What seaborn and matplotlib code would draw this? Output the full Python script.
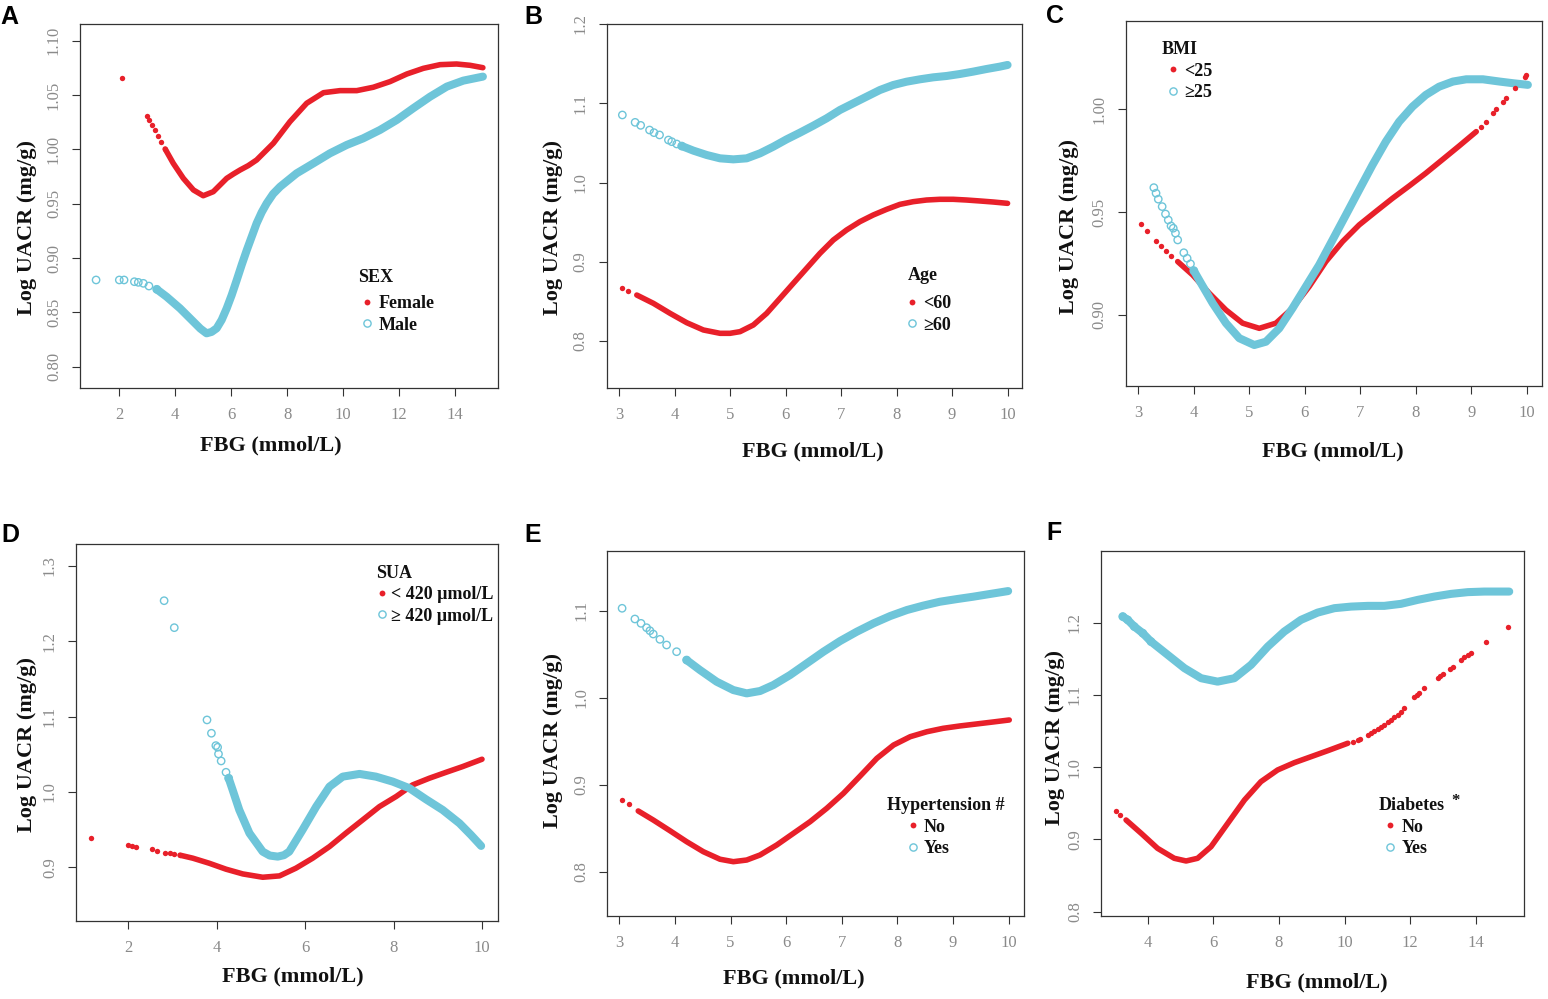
import matplotlib
matplotlib.use("Agg")
import matplotlib.pyplot as plt
import seaborn as sns
from matplotlib.lines import Line2D

# ---------------------------------------------------------------- data
# Panel A (SEX)
A_F_PTS_X = [2.11, 2.98, 3.06, 3.16, 3.28, 3.39, 3.49, 3.64]
A_F_PTS_Y = [1.0654, 1.0307, 1.0270, 1.0224, 1.0178, 1.0123, 1.0070, 1.0003]
A_F_CURVE_X = [3.64, 3.93, 4.29, 4.65, 5.00, 5.36, 5.84, 6.08, 6.32, 6.61, 6.91, 7.51, 8.10,
               8.70, 9.30, 9.89, 10.49, 11.08, 11.68, 12.28, 12.87, 13.47, 14.06, 14.54, 15.00]
A_F_CURVE_Y = [1.0003, 0.9871, 0.9733, 0.9626, 0.9573, 0.9610, 0.9733, 0.9773, 0.9810, 0.9850,
               0.9902, 1.0056, 1.0254, 1.0424, 1.0521, 1.0540, 1.0540, 1.0571, 1.0623, 1.0693,
               1.0745, 1.0779, 1.0785, 1.0773, 1.0751]
A_M_PTS_X = [1.17, 2.00, 2.17, 2.54, 2.68, 2.86, 3.06, 3.34]
A_M_PTS_Y = [0.8798, 0.8798, 0.8798, 0.8782, 0.8776, 0.8767, 0.8742, 0.8712]
A_M_CURVE_X = [3.34, 3.69, 4.17, 4.65, 4.90, 5.12, 5.30, 5.48, 5.66, 5.84, 6.02, 6.20, 6.38,
               6.56, 6.74, 6.91, 7.09, 7.27, 7.50, 7.75, 8.34, 8.94, 9.53, 10.13, 10.72, 11.32,
               11.92, 12.51, 13.11, 13.71, 14.30, 15.00]
A_M_CURVE_Y = [0.8712, 0.8644, 0.8537, 0.8414, 0.8350, 0.8307, 0.8320, 0.8353, 0.8430, 0.8537,
               0.8660, 0.8798, 0.8940, 0.9074, 0.9200, 0.9319, 0.9420, 0.9503, 0.9590, 0.9656,
               0.9779, 0.9871, 0.9963, 1.0040, 1.0101, 1.0178, 1.0270, 1.0378, 1.0484, 1.0577,
               1.0632, 1.0669]

# Panel B (Age)
B_R_PTS_X = [3.06, 3.17]
B_R_PTS_Y = [0.8669, 0.8631]
B_R_CURVE_X = [3.32, 3.62, 3.92, 4.22, 4.52, 4.82, 5.00, 5.18, 5.42, 5.66, 5.90, 6.14, 6.38,
               6.62, 6.86, 7.10, 7.34, 7.58, 7.82, 8.06, 8.30, 8.54, 8.78, 9.02, 9.26, 9.50,
               9.74, 10.00]
B_R_CURVE_Y = [0.8580, 0.8475, 0.8349, 0.8231, 0.8139, 0.8097, 0.8097, 0.8118, 0.8202, 0.8349,
               0.8538, 0.8728, 0.8917, 0.9106, 0.9274, 0.9401, 0.9506, 0.9590, 0.9661, 0.9724,
               0.9758, 0.9779, 0.9788, 0.9788, 0.9779, 0.9767, 0.9754, 0.9737]
B_C_PTS_X = [3.06, 3.29, 3.39, 3.55, 3.63, 3.73, 3.89, 3.95, 4.04, 4.13]
B_C_PTS_Y = [1.0852, 1.0759, 1.0721, 1.0662, 1.0629, 1.0600, 1.0536, 1.0515, 1.0486, 1.0460]
B_C_CURVE_X = [4.13, 4.34, 4.58, 4.82, 5.06, 5.30, 5.54, 5.78, 6.02, 6.26, 6.50, 6.74, 6.98,
               7.22, 7.46, 7.70, 7.94, 8.18, 8.42, 8.66, 8.90, 9.14, 9.38, 9.62, 9.86, 10.00]
B_C_CURVE_Y = [1.0460, 1.0402, 1.0347, 1.0305, 1.0292, 1.0305, 1.0368, 1.0452, 1.0545, 1.0629,
               1.0717, 1.0810, 1.0915, 1.0999, 1.1083, 1.1167, 1.1230, 1.1272, 1.1302, 1.1327,
               1.1344, 1.1369, 1.1399, 1.1432, 1.1462, 1.1483]

# Panel C (BMI)
C_R_PTS_X = [3.05, 3.16, 3.32, 3.41, 3.50, 3.59]
C_R_PTS_Y = [0.9440, 0.9408, 0.9359, 0.9335, 0.9311, 0.9286]
C_R_CURVE_X = [3.71, 3.98, 4.28, 4.58, 4.88, 5.18, 5.48, 5.78, 6.08, 6.38, 6.68, 6.98, 7.28,
               7.58, 7.88, 8.18, 8.49, 8.78, 9.09]
C_R_CURVE_Y = [0.9259, 0.9194, 0.9105, 0.9024, 0.8960, 0.8935, 0.8960, 0.9033, 0.9138, 0.9259,
               0.9356, 0.9437, 0.9502, 0.9566, 0.9626, 0.9688, 0.9756, 0.9820, 0.9890]
C_R_PTS2_X = [9.17, 9.27, 9.39, 9.45, 9.57, 9.63, 9.78, 9.96, 9.99]
C_R_PTS2_Y = [0.9912, 0.9938, 0.9982, 0.9998, 1.0036, 1.0052, 1.0100, 1.0157, 1.0165]
C_C_PTS_X = [3.28, 3.32, 3.36, 3.43, 3.49, 3.54, 3.59, 3.63, 3.67, 3.71, 3.82, 3.88, 3.94, 4.00]
C_C_PTS_Y = [0.9618, 0.9591, 0.9562, 0.9526, 0.9490, 0.9461, 0.9432, 0.9421, 0.9397, 0.9364,
             0.9302, 0.9275, 0.9248, 0.9215]
C_C_CURVE_X = [4.00, 4.13, 4.34, 4.58, 4.82, 5.09, 5.30, 5.54, 5.78, 6.02, 6.26, 6.50, 6.74,
               6.98, 7.22, 7.46, 7.70, 7.94, 8.18, 8.42, 8.67, 8.91, 9.21, 9.51, 9.75, 10.02]
C_C_CURVE_Y = [0.9215, 0.9154, 0.9057, 0.8960, 0.8887, 0.8854, 0.8870, 0.8935, 0.9033, 0.9138,
               0.9243, 0.9364, 0.9485, 0.9607, 0.9728, 0.9841, 0.9938, 1.0011, 1.0068, 1.0108,
               1.0133, 1.0144, 1.0144, 1.0133, 1.0125, 1.0117]

# Panel D (SUA)
D_R_PTS_X = [1.16, 1.99, 2.08, 2.17, 2.54, 2.65, 2.84, 2.94, 3.04, 3.17]
D_R_PTS_Y = [0.9385, 0.9296, 0.9283, 0.9274, 0.9239, 0.9221, 0.9194, 0.9186, 0.9173, 0.9160]
D_R_CURVE_X = [3.17, 3.46, 3.83, 4.21, 4.59, 5.04, 5.42, 5.79, 6.17, 6.55, 6.92, 7.30, 7.68,
               8.06, 8.43, 8.81, 9.19, 9.56, 10.00]
D_R_CURVE_Y = [0.9160, 0.9120, 0.9053, 0.8974, 0.8911, 0.8867, 0.8885, 0.8987, 0.9120, 0.9274,
               0.9452, 0.9628, 0.9805, 0.9940, 1.0093, 1.0182, 1.0261, 1.0336, 1.0434]
D_C_PTS_X = [2.81, 3.04, 3.78, 3.88, 3.98, 4.02, 4.04, 4.10, 4.21, 4.27]
D_C_PTS_Y = [1.2539, 1.2181, 1.0956, 1.0779, 1.0615, 1.0593, 1.0504, 1.0411, 1.0261, 1.0182]
D_C_CURVE_X = [4.27, 4.36, 4.51, 4.74, 5.04, 5.20, 5.38, 5.52, 5.64, 5.94, 6.25, 6.55, 6.85,
               7.23, 7.60, 7.98, 8.36, 8.73, 9.11, 9.49, 9.75, 9.98]
D_C_CURVE_Y = [1.0182, 1.0026, 0.9761, 0.9452, 0.9207, 0.9155, 0.9141, 0.9160, 0.9207, 0.9495,
               0.9805, 1.0070, 1.0203, 1.0239, 1.0203, 1.0137, 1.0049, 0.9903, 0.9761, 0.9584,
               0.9429, 0.9283]

# Panel E (Hypertension)
E_R_PTS_X = [3.05, 3.17]
E_R_PTS_Y = [0.8824, 0.8775]
E_R_CURVE_X = [3.34, 3.61, 3.91, 4.21, 4.51, 4.81, 5.05, 5.29, 5.53, 5.83, 6.13, 6.43, 6.73,
               7.03, 7.33, 7.63, 7.93, 8.23, 8.53, 8.82, 9.12, 9.42, 9.72, 10.01]
E_R_CURVE_Y = [0.8698, 0.8594, 0.8471, 0.8345, 0.8230, 0.8143, 0.8115, 0.8134, 0.8192, 0.8307,
               0.8441, 0.8575, 0.8729, 0.8901, 0.9100, 0.9303, 0.9456, 0.9552, 0.9609, 0.9648,
               0.9675, 0.9698, 0.9721, 0.9744]
E_C_PTS_X = [3.05, 3.28, 3.39, 3.49, 3.55, 3.61, 3.73, 3.85, 4.03, 4.21]
E_C_PTS_Y = [1.1028, 1.0905, 1.0855, 1.0805, 1.0770, 1.0732, 1.0671, 1.0606, 1.0529, 1.0433]
E_C_CURVE_X = [4.21, 4.45, 4.75, 5.05, 5.29, 5.53, 5.77, 6.07, 6.37, 6.67, 6.97, 7.27, 7.57,
               7.87, 8.17, 8.46, 8.76, 9.07, 9.36, 9.66, 9.99]
E_C_CURVE_Y = [1.0433, 1.0318, 1.0184, 1.0088, 1.0050, 1.0077, 1.0146, 1.0261, 1.0395, 1.0529,
               1.0652, 1.0759, 1.0855, 1.0939, 1.1008, 1.1058, 1.1103, 1.1134, 1.1161, 1.1192,
               1.1226]

# Panel F (Diabetes)
F_R_PTS_X = [3.03, 3.16]
F_R_PTS_Y = [0.9398, 0.9338]
F_R_CURVE_X = [3.34, 3.80, 4.30, 4.81, 5.17, 5.52, 5.93, 6.44, 6.95, 7.45, 7.96, 8.47, 8.98,
               9.49, 10.10]
F_R_CURVE_Y = [0.9269, 0.9085, 0.8877, 0.8739, 0.8702, 0.8739, 0.8900, 0.9223, 0.9546, 0.9799,
               0.9961, 1.0062, 1.0145, 1.0228, 1.0331]
F_R_PTS2_X = [10.25, 10.40, 10.47, 10.71, 10.81, 10.91, 11.01, 11.11, 11.21, 11.32, 11.42,
              11.52, 11.62, 11.72, 11.82, 12.13, 12.20, 12.28, 12.43, 12.84, 12.92, 12.99,
              13.20, 13.30, 13.55, 13.65, 13.76, 13.86, 14.31, 14.98]
F_R_PTS2_Y = [1.0352, 1.0377, 1.0394, 1.0446, 1.0469, 1.0496, 1.0524, 1.0554, 1.0584, 1.0618,
              1.0653, 1.0688, 1.0722, 1.0768, 1.0815, 1.0976, 1.1003, 1.1031, 1.1092, 1.1239,
              1.1265, 1.1290, 1.1355, 1.1383, 1.1484, 1.1518, 1.1553, 1.1585, 1.1729, 1.1945]
F_C_PTS_X = [3.24, 3.39, 3.59, 3.85, 4.10]
F_C_PTS_Y = [1.2083, 1.2037, 1.1945, 1.1853, 1.1737]
F_C_CURVE_X = [3.24, 3.39, 3.59, 3.85, 4.10, 4.61, 5.12, 5.63, 6.13, 6.64, 7.15, 7.66, 8.16,
               8.67, 9.18, 9.69, 10.20, 10.71, 11.21, 11.72, 12.23, 12.74, 13.25, 13.76, 14.26,
               15.02]
F_C_CURVE_Y = [1.2083, 1.2037, 1.1945, 1.1853, 1.1737, 1.1553, 1.1369, 1.1230, 1.1183, 1.1230,
               1.1415, 1.1668, 1.1875, 1.2037, 1.2138, 1.2199, 1.2221, 1.2231, 1.2231, 1.2259,
               1.2314, 1.2360, 1.2397, 1.2421, 1.2429, 1.2429]

# ticks / labels
A_XTICKS = [2, 4, 6, 8, 10, 12, 14]
A_YTICKS = [0.80, 0.85, 0.90, 0.95, 1.00, 1.05, 1.10]
A_YLABELS = ["0.80", "0.85", "0.90", "0.95", "1.00", "1.05", "1.10"]
B_XTICKS = [3, 4, 5, 6, 7, 8, 9, 10]
B_YTICKS = [0.8, 0.9, 1.0, 1.1, 1.2]
B_YLABELS = ["0.8", "0.9", "1.0", "1.1", "1.2"]
C_XTICKS = [3, 4, 5, 6, 7, 8, 9, 10]
C_YTICKS = [0.90, 0.95, 1.00]
C_YLABELS = ["0.90", "0.95", "1.00"]
D_XTICKS = [2, 4, 6, 8, 10]
D_YTICKS = [0.9, 1.0, 1.1, 1.2, 1.3]
D_YLABELS = ["0.9", "1.0", "1.1", "1.2", "1.3"]
E_XTICKS = [3, 4, 5, 6, 7, 8, 9, 10]
E_YTICKS = [0.8, 0.9, 1.0, 1.1]
E_YLABELS = ["0.8", "0.9", "1.0", "1.1"]
F_XTICKS = [4, 6, 8, 10, 12, 14]
F_YTICKS = [0.8, 0.9, 1.0, 1.1, 1.2]
F_YLABELS = ["0.8", "0.9", "1.0", "1.1", "1.2"]

LEGEND_TITLES = ["SEX", "Age", "BMI", "SUA", "Hypertension #", "Diabetes"]
LEGEND_LABELS = [["Female", "Male"], ["<60", "\u226560"], ["<25", "\u226525"],
                 ["< 420 \u00b5mol/L", "\u2265 420 \u00b5mol/L"], ["No", "Yes"], ["No", "Yes"]]
PANEL_LETTERS = ["A", "B", "C", "D", "E", "F"]
XLABEL = "FBG (mmol/L)"
YLABEL = "Log UACR (mg/g)"

# ---------------------------------------------------------------- style
W, H = 1548, 999
RED = "#E8202A"
CYAN = "#6EC5D9"
RED_LW = 4.0
CYAN_LW = 5.8
SERIF = ["Liberation Serif", "DejaVu Serif"]

sns.set_theme(style="white")
plt.rcParams["font.family"] = SERIF

fig = plt.figure(figsize=(W / 100, H / 100), dpi=100)
fig.patch.set_facecolor("white")


def add_axes_px(l, t, r, b):
    return fig.add_axes([l / W, 1 - b / H, (r - l) / W, (b - t) / H])


panels = [
    dict(box=(80, 24, 498, 388), xlim=(0.595, 15.54), ylim=(0.7804, 1.1153),
         xt=A_XTICKS, yt=A_YTICKS, ytl=A_YLABELS,
         red=[(A_F_PTS_X, A_F_PTS_Y)], redc=[(A_F_CURVE_X, A_F_CURVE_Y)],
         cyan=[(A_M_PTS_X, A_M_PTS_Y)], cyanc=[(A_M_CURVE_X, A_M_CURVE_Y)],
         xl=(0.457, -0.157), yl=(-0.1256, 0.4423),
         title_px=(357.7, 277.0), leg_px=(358.3, 295.0), htp=0.15),
    dict(box=(606.7, 24, 1022, 388), xlim=(2.778, 10.26), ylim=(0.7407, 1.2),
         xt=B_XTICKS, yt=B_YTICKS, ytl=B_YLABELS,
         red=[(B_R_PTS_X, B_R_PTS_Y)], redc=[(B_R_CURVE_X, B_R_CURVE_Y)],
         cyan=[(B_C_PTS_X, B_C_PTS_Y)], cyanc=[(B_C_CURVE_X, B_C_CURVE_Y)],
         xl=(0.4955, -0.175), yl=(-0.1286, 0.441),
         title_px=(908.3, 276.0), leg_px=(902.7, 295.0), htp=0.11),
    dict(box=(1125.7, 21, 1542.3, 386), xlim=(2.773, 10.28), ylim=(0.8655, 1.0427),
         xt=C_XTICKS, yt=C_YTICKS, ytl=C_YLABELS,
         red=[(C_R_PTS_X, C_R_PTS_Y)], redc=[(C_R_CURVE_X, C_R_CURVE_Y)],
         cyan=[(C_C_PTS_X, C_C_PTS_Y)], cyanc=[(C_C_CURVE_X, C_C_CURVE_Y)],
         red_top=[(C_R_PTS2_X, C_R_PTS2_Y)],
         xl=(0.4964, -0.18), yl=(-0.1366, 0.4364),
         title_px=(1161.7, 49.3), leg_px=(1164.3, 62.5), htp=0.10),
    dict(box=(76, 544.3, 497.7, 920.7), xlim=(0.817, 10.355), ylim=(0.829, 1.3288),
         xt=D_XTICKS, yt=D_YTICKS, ytl=D_YLABELS,
         red=[(D_R_PTS_X, D_R_PTS_Y)], redc=[(D_R_CURVE_X, D_R_CURVE_Y)],
         cyan=[(D_C_PTS_X, D_C_PTS_Y)], cyanc=[(D_C_CURVE_X, D_C_CURVE_Y)],
         xl=(0.5146, -0.1488), yl=(-0.117, 0.469),
         title_px=(375.7, 574.0), leg_px=(372.7, 586.0), htp=0.0),
    dict(box=(607.3, 550.7, 1024, 915.7), xlim=(2.784, 10.275), ylim=(0.7494, 1.169),
         xt=E_XTICKS, yt=E_YTICKS, ytl=E_YLABELS,
         red=[(E_R_PTS_X, E_R_PTS_Y)], redc=[(E_R_CURVE_X, E_R_CURVE_Y)],
         cyan=[(E_C_PTS_X, E_C_PTS_Y)], cyanc=[(E_C_CURVE_X, E_C_CURVE_Y)],
         xl=(0.4485, -0.1715), yl=(-0.1303, 0.4792),
         title_px=(886.7, 805.3), leg_px=(903.7, 818.5), htp=0.09),
    dict(box=(1101, 551, 1524, 915.7), xlim=(2.576, 15.47), ylim=(0.7945, 1.299),
         xt=F_XTICKS, yt=F_YTICKS, ytl=F_YLABELS,
         red=[(F_R_PTS_X, F_R_PTS_Y)], redc=[(F_R_CURVE_X, F_R_CURVE_Y)],
         cyan=[(F_C_PTS_X, F_C_PTS_Y)], cyanc=[(F_C_CURVE_X, F_C_CURVE_Y)],
         red_top=[(F_R_PTS2_X, F_R_PTS2_Y)],
         xl=(0.5106, -0.1832), yl=(-0.1087, 0.4886),
         title_px=(1379, 805.5), leg_px=(1381, 818.5), htp=0.15),
]

LETTER_PX = [(0, 24), (524, 24), (1046, 23), (1, 542), (524, 542), (1046, 540)]

for i, p in enumerate(panels):
    ax = add_axes_px(*p["box"])
    ax.set_facecolor("white")
    for xs, ys in p["redc"]:
        sns.lineplot(x=xs, y=ys, ax=ax, color=RED, linewidth=RED_LW, sort=False,
                     estimator=None, solid_capstyle="round", zorder=2)
    for xs, ys in p["red"]:
        sns.scatterplot(x=xs, y=ys, ax=ax, color=RED, s=15, linewidth=0, zorder=2)
    for xs, ys in p["cyanc"]:
        sns.lineplot(x=xs, y=ys, ax=ax, color=CYAN, linewidth=CYAN_LW, sort=False,
                     estimator=None, solid_capstyle="round", zorder=3)
    for xs, ys in p["cyan"]:
        sns.scatterplot(x=xs, y=ys, ax=ax, color=CYAN, s=28, facecolor="none",
                        edgecolor=CYAN, linewidth=1.0, zorder=3)
    for xs, ys in p.get("red_top", []):
        sns.scatterplot(x=xs, y=ys, ax=ax, color=RED, s=15, linewidth=0, zorder=4)

    ax.set_xlim(*p["xlim"])
    ax.set_ylim(*p["ylim"])
    ax.set_xticks(p["xt"])
    ax.set_xticklabels([str(v) for v in p["xt"]])
    ax.set_yticks(p["yt"])
    ax.set_yticklabels(p["ytl"], rotation=90, va="center")
    ax.tick_params(axis="both", which="both", bottom=True, left=True, direction="out",
                   length=6, width=0.8, color="#333333", labelcolor="#8a8a8a",
                   labelsize=12)
    ax.tick_params(axis="x", pad=8.0)
    ax.tick_params(axis="y", pad=7.0)
    for lab in ax.get_xticklabels() + ax.get_yticklabels():
        lab.set_family(SERIF)
    for sp in ax.spines.values():
        sp.set_visible(True)
        sp.set_color("#333333")
        sp.set_linewidth(0.9)
    ax.grid(False)

    ax.set_xlabel(XLABEL, fontsize=16, fontweight="bold", color="#111111")
    ax.set_ylabel(YLABEL, fontsize=16, fontweight="bold", color="#111111")
    ax.xaxis.label.set_va("center")
    ax.yaxis.label.set_va("center")
    ax.xaxis.set_label_coords(*p["xl"])
    ax.yaxis.set_label_coords(*p["yl"])

    # legend title
    tx, ty = p["title_px"]
    fig.text(tx / W, 1 - ty / H, LEGEND_TITLES[i], fontsize=13, fontweight="bold",
             color="#111111", ha="left", va="center")
    handles = [Line2D([], [], marker="o", ls="", color=RED, markersize=4.2, mew=0),
               Line2D([], [], marker="o", ls="", mfc="none", mec=CYAN, markersize=5.2, mew=1.0)]
    lx, ly = p["leg_px"]
    leg = ax.legend(handles=handles, labels=LEGEND_LABELS[i], loc="upper left",
                    bbox_to_anchor=(lx / W, 1 - ly / H), bbox_transform=fig.transFigure,
                    frameon=False, borderpad=0, borderaxespad=0, handlelength=1.0,
                    handletextpad=p["htp"], labelspacing=0.25,
                    prop={"family": SERIF, "weight": "bold", "size": 13})
    for t in leg.get_texts():
        t.set_color("#111111")

    # panel letter
    lxp, lyp = LETTER_PX[i]
    fig.text(lxp / W, 1 - lyp / H, PANEL_LETTERS[i], fontsize=18, fontweight="bold",
             family=["Liberation Sans", "DejaVu Sans"], ha="left", va="baseline",
             color="black")

# superscript star for Diabetes title
fig.text(1451 / W, 1 - 804.5 / H, "*", fontsize=12, fontweight="bold", color="#111111",
         ha="left", va="baseline")

fig.savefig("out.png", dpi=100, facecolor="white")
